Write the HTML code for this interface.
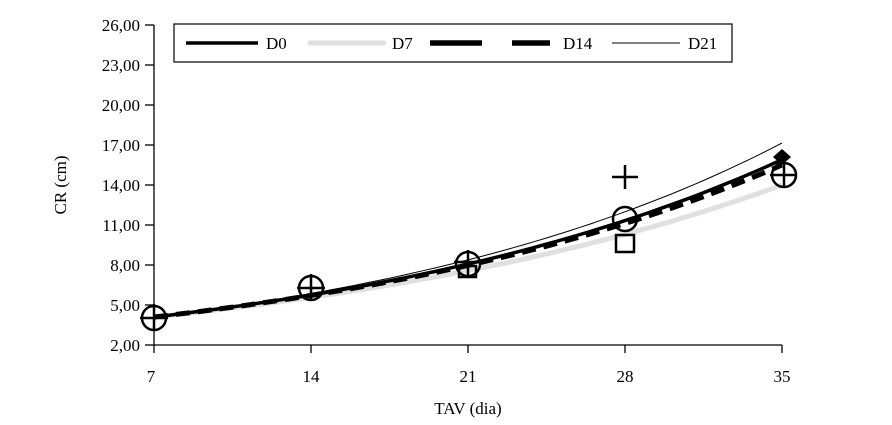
<!DOCTYPE html>
<html><head><meta charset="utf-8"><style>
body{margin:0;background:#fff}
svg text{font-family:"Liberation Serif",serif;font-size:17px;fill:#000}
</style></head><body>
<svg id="s" width="892" height="420" xmlns="http://www.w3.org/2000/svg">
<g stroke="#000" stroke-width="1.3" fill="none">
<line x1="154" y1="25" x2="154" y2="345"/>
<line x1="154" y1="345" x2="782" y2="345"/>
<line x1="145" y1="25" x2="154" y2="25"/><line x1="145" y1="65" x2="154" y2="65"/>
<line x1="145" y1="105" x2="154" y2="105"/><line x1="145" y1="145" x2="154" y2="145"/>
<line x1="145" y1="185" x2="154" y2="185"/><line x1="145" y1="225" x2="154" y2="225"/>
<line x1="145" y1="265" x2="154" y2="265"/><line x1="145" y1="305" x2="154" y2="305"/>
<line x1="145" y1="345" x2="154" y2="345"/>
<line x1="154" y1="345" x2="154" y2="353"/><line x1="311" y1="345" x2="311" y2="353"/>
<line x1="468" y1="345" x2="468" y2="353"/><line x1="625" y1="345" x2="625" y2="353"/>
<line x1="782" y1="345" x2="782" y2="353"/>
</g>
<g text-anchor="end">
<text x="140" y="31">26,00</text><text x="140" y="71">23,00</text><text x="140" y="111">20,00</text>
<text x="140" y="151">17,00</text><text x="140" y="191">14,00</text><text x="140" y="231">11,00</text>
<text x="140" y="271">8,00</text><text x="140" y="311">5,00</text><text x="140" y="351">2,00</text>
</g>
<g text-anchor="middle">
<text x="151" y="382">7</text><text x="311" y="382">14</text><text x="468" y="382">21</text>
<text x="625" y="382">28</text><text x="782" y="382">35</text>
<text x="468" y="414">TAV (dia)</text>
<text transform="translate(66,185) rotate(-90)">CR (cm)</text>
</g>
<g id="curves" fill="none"></g>
<g fill="none" stroke="#000" stroke-width="2.5">
<circle cx="154" cy="318" r="12"/><line x1="140" y1="318" x2="168" y2="318"/><line x1="154" y1="304" x2="154" y2="330"/>
<circle cx="311" cy="288" r="12"/><line x1="297" y1="288" x2="325" y2="288"/><line x1="311" y1="274" x2="311" y2="300"/>
<circle cx="468" cy="264" r="12"/><line x1="454" y1="262" x2="482" y2="262"/><line x1="468" y1="250" x2="468" y2="276"/>
<rect x="459" y="266" width="17" height="11"/>
<circle cx="625" cy="219" r="12"/>
<rect x="616" y="235" width="18" height="17"/>
<line x1="612" y1="177" x2="638" y2="177"/><line x1="625" y1="165" x2="625" y2="189"/>
<circle cx="784" cy="175" r="12"/><line x1="770" y1="175" x2="797" y2="175"/><line x1="784" y1="162" x2="784" y2="188"/>
</g>
<polygon points="782,149 791,157 782,165 773,157" fill="#000"/>
<rect x="174" y="24" width="558" height="38" fill="#fff" stroke="#000" stroke-width="1.2"/>
<g fill="none">
<line x1="186" y1="43" x2="258" y2="43" stroke="#000" stroke-width="3.5"/>
<line x1="310" y1="43" x2="384" y2="43" stroke="#e0e0e0" stroke-width="5" stroke-linecap="round"/>
<line x1="430" y1="43" x2="482" y2="43" stroke="#000" stroke-width="5.5"/>
<line x1="512" y1="43" x2="550" y2="43" stroke="#000" stroke-width="5.5"/>
<line x1="612" y1="43" x2="680" y2="43" stroke="#000" stroke-width="1"/>
</g>
<text x="266" y="49">D0</text><text x="392" y="49">D7</text><text x="563" y="49">D14</text><text x="688" y="49">D21</text>
</svg>
<script>
function path(a,e){var b=Math.log(e/a)/28,d="";for(var t=7;t<=35.001;t+=0.5){var v=a*Math.exp(b*(t-7));var x=154+(t-7)*157/7,y=345-(v-2)*320/24;d+=(t==7?"M":"L")+x.toFixed(1)+","+y.toFixed(1);}return d;}
var g=document.getElementById("curves");
var specs=[[4.1,14.0,"#e0e0e0",5,""],[4.1,15.5,"#000",5,"14 8"],[4.1,15.9,"#000",3.5,""],[4.1,17.15,"#000",1,""]];
specs.forEach(function(s){var p=document.createElementNS("http://www.w3.org/2000/svg","path");p.setAttribute("d",path(s[0],s[1]));p.setAttribute("stroke",s[2]);p.setAttribute("stroke-width",s[3]);if(s[4])p.setAttribute("stroke-dasharray",s[4]);g.appendChild(p);});
</script>
</body></html>
